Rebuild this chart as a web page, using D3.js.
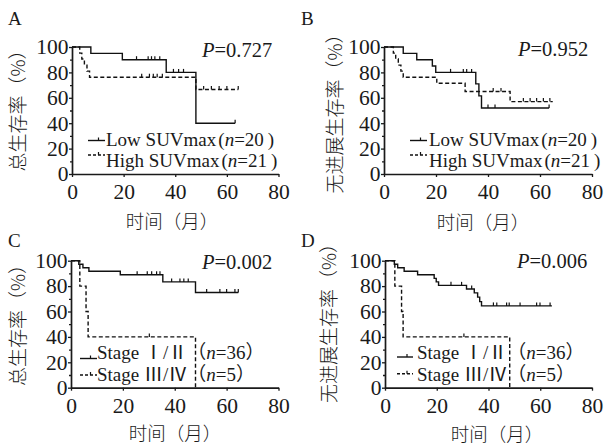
<!DOCTYPE html>
<html>
<head>
<meta charset="utf-8">
<script src="https://cdn.jsdelivr.net/npm/d3@7"></script>
<style>
body { margin: 0; background: #fff; }
text { fill: #1a1a1a; }
</style>
</head>
<body>
<svg id="chart" width="611" height="445"></svg>
<script>
// axis ticks
var xTicks = [0, 20, 40, 60, 80];
var yTicks = [0, 20, 40, 60, 80, 100];
var yMinor = [10, 30, 50, 70, 90];
var pValues = ["0.727", "0.952", "0.002", "0.006"];

// A: overall survival, SUVmax
var aLowT = [0, 7.3, 19.5, 36.5, 48, 63.2];
var aLowS = [100, 95, 90, 80, 40, 40];
var aLowC = [25, 29.5, 30.8, 32.1, 34, 39.3, 41.3, 43.2, 63.2];
var aHighT = [0, 3, 3.8, 4.8, 5.8, 6.8, 48, 64.4];
var aHighS = [100, 95.2, 90.5, 85.7, 81, 76.2, 66.5, 66.5];
var aHighC = [27, 30, 31.5, 33, 35, 51, 54, 57, 60, 64.4];

// B: progression-free survival, SUVmax
var bLowT = [0, 7.4, 12.6, 18.6, 19.9, 35.3, 36.5, 37.5, 63.5];
var bLowS = [100, 95, 90, 85, 80, 71, 61.5, 52, 52];
var bLowC = [25.6, 30.5, 31.8, 33.7, 40, 42.7, 63.5];
var bHighT = [0, 3.6, 4.5, 5.5, 6.5, 7.4, 20.3, 31.2, 48.5, 64.9];
var bHighS = [100, 95.2, 90.5, 85.7, 81, 76.2, 71.4, 65, 57, 57];
var bHighC = [42, 45, 53.6, 56.2, 58.7, 61.3, 63.8];

// C: overall survival, stage
var cEarlyT = [0, 3, 4.6, 6.9, 19, 35.4, 48, 64.5];
var cEarlyS = [100, 97.2, 94.4, 91.7, 88.9, 83.3, 75, 75];
var cEarlyC = [25.5, 29.4, 31.1, 33, 34.3, 38.8, 42, 43.5, 45.2, 52.3, 57.4, 60, 63.2, 64.5];
var cLateT = [0, 3.4, 5.8, 6.6, 48];
var cLateS = [100, 80, 60, 40, 0];
var cLateC = [30.2];

// D: progression-free survival, stage
var dEarlyT = [0, 3.6, 4.9, 7.4, 12.6, 19, 19.8, 20.7, 31.5, 34.5, 35.8, 36.6, 37.3, 64.5];
var dEarlyS = [100, 97.2, 94.4, 91.7, 88.9, 86.1, 83.3, 80.6, 77.7, 74.7, 71.3, 67.8, 64.4, 64.4];
var dEarlyC = [25.5, 29.6, 33.5, 41.9, 43.2, 47, 48, 52.2, 58.6, 59.9, 63.8];
var dLateT = [0, 3.8, 6.4, 7, 48.2];
var dLateS = [100, 80, 60, 40, 0];
var dLateC = [30.5];

var suvNames = ["Low SUVmax", "High SUVmax"];
var suvN = [20, 21];
var stageNames = ["Stage Ⅰ/Ⅱ", "Stage Ⅲ/Ⅳ"];
var stageN = [36, 5];

var serif = "'Liberation Serif', 'Noto Sans CJK SC', serif";
var cjk = "'Noto Sans CJK SC', sans-serif";

var panels = [
	{ letter: "A", lx: 8, ly: 25, x0: 72, x1: 278.5, y0: 174, y1: 47,
		ylab: "总生存率（%）", ylabX: 16.5, ylabY: 106, xlabX: 172, xlabY: 220,
		p: pValues[0], px: 202, py: 57,
		series: [[aLowT, aLowS, aLowC], [aHighT, aHighS, aHighC]],
		names: suvNames, ns: suvN, wide: false,
		leg: { sx0: 88, sx1: 105, sy: [140.5, 155], tx: 106, ty: [146, 166.5] } },
	{ letter: "B", lx: 301, ly: 25, x0: 384, x1: 592, y0: 174, y1: 47,
		ylab: "无进展生存率（%）", ylabX: 333.5, ylabY: 109, xlabX: 483, xlabY: 221,
		p: pValues[1], px: 518, py: 56,
		series: [[bLowT, bLowS, bLowC], [bHighT, bHighS, bHighC]],
		names: suvNames, ns: suvN, wide: false,
		leg: { sx0: 410, sx1: 427, sy: [140.5, 155], tx: 429, ty: [146, 166.5] } },
	{ letter: "C", lx: 8, ly: 247, x0: 71, x1: 278.5, y0: 387.7, y1: 260.7,
		ylab: "总生存率（%）", ylabX: 16.5, ylabY: 320.5, xlabX: 175, xlabY: 432,
		p: pValues[2], px: 202, py: 268.7,
		series: [[cEarlyT, cEarlyS, cEarlyC], [cLateT, cLateS, cLateC]],
		names: stageNames, ns: stageN, wide: true,
		leg: { sx0: 80, sx1: 97, sy: [358.5, 375], tx: 97, ty: [359, 381.3] } },
	{ letter: "D", lx: 301, ly: 247, x0: 385, x1: 592, y0: 387.7, y1: 260.7,
		ylab: "无进展生存率（%）", ylabX: 327.7, ylabY: 318.5, xlabX: 497, xlabY: 433,
		p: pValues[3], px: 517, py: 268,
		series: [[dEarlyT, dEarlyS, dEarlyC], [dLateT, dLateS, dLateC]],
		names: stageNames, ns: stageN, wide: true,
		leg: { sx0: 397, sx1: 413, sy: [357, 373.7], tx: 417, ty: [359, 381.3] } }
];

var svg = d3.select("#chart");
var dashes = [null, "4,2.5"];

function valueAt(times, surv, t) {
	var v = surv[0];
	for (var i = 0; i < times.length; i++) {
		if (times[i] <= t) v = surv[i];
	}
	return v;
}

panels.forEach(function (p) {
	var x = d3.scaleLinear().domain([0, 80]).range([p.x0, p.x1]);
	var y = d3.scaleLinear().domain([0, 100]).range([p.y0, p.y1]);
	var g = svg.append("g");

	// axes
	g.append("g")
		.attr("transform", "translate(" + p.x0 + ",0)")
		.call(d3.axisLeft(y).tickValues(yTicks).tickSize(3).tickSizeOuter(0).tickPadding(0.5));
	g.append("g")
		.attr("transform", "translate(" + p.x0 + ",0)")
		.call(d3.axisLeft(y).tickValues(yMinor).tickSize(2).tickFormat(""))
		.select(".domain").remove();
	g.append("g")
		.attr("transform", "translate(0," + p.y0 + ")")
		.call(d3.axisBottom(x).tickValues(xTicks).tickSize(3).tickSizeOuter(0).tickPadding(7));
	g.selectAll(".tick line").attr("stroke", "#1a1a1a").attr("stroke-width", 1.3);
	g.selectAll(".domain").attr("stroke", "#1a1a1a").attr("stroke-width", 1.7);
	g.selectAll(".tick text")
		.attr("font-family", serif).attr("font-size", 21.5).attr("fill", "#1a1a1a");

	// curves
	var line = d3.line()
		.x(function (d) { return x(d[0]); })
		.y(function (d) { return y(d[1]); })
		.curve(d3.curveStepAfter);

	p.series.forEach(function (s, k) {
		var pts = s[0].map(function (t, i) { return [t, s[1][i]]; });
		g.append("path")
			.attr("d", line(pts))
			.attr("fill", "none")
			.attr("stroke", "#111")
			.attr("stroke-width", 1.4)
			.attr("stroke-dasharray", dashes[k]);
		g.selectAll(null)
			.data(s[2])
			.enter().append("line")
			.attr("x1", function (t) { return x(t); })
			.attr("x2", function (t) { return x(t); })
			.attr("y1", function (t) { return y(valueAt(s[0], s[1], t)); })
			.attr("y2", function (t) { return y(valueAt(s[0], s[1], t)) - 3.5; })
			.attr("stroke", "#111")
			.attr("stroke-width", 1.2);

		// legend
		var L = p.leg;
		g.append("line")
			.attr("x1", L.sx0).attr("x2", L.sx1)
			.attr("y1", L.sy[k]).attr("y2", L.sy[k])
			.attr("stroke", "#111").attr("stroke-width", 1.4)
			.attr("stroke-dasharray", k ? "3,2" : null);
		g.append("line")
			.attr("x1", (L.sx0 + L.sx1) / 2 + 2).attr("x2", (L.sx0 + L.sx1) / 2 + 2)
			.attr("y1", L.sy[k]).attr("y2", L.sy[k] - 3)
			.attr("stroke", "#111").attr("stroke-width", 1.2);
		var t = g.append("text")
			.attr("x", L.tx).attr("y", L.ty[k])
			.attr("font-family", serif).attr("font-size", 19);
		if (p.wide) {
			t.append("tspan").text(p.names[k] + "（");
			t.append("tspan").attr("font-style", "italic").text("n");
			t.append("tspan").text("=" + p.ns[k] + "）");
		} else {
			t.append("tspan").text(p.names[k]);
			t.append("tspan").attr("dx", 2).text("(");
			t.append("tspan").attr("font-style", "italic").text("n");
			t.append("tspan").text("=" + p.ns[k]);
			t.append("tspan").attr("dx", 4).text(")");
		}
	});

	// P value
	var pt = g.append("text")
		.attr("x", p.px).attr("y", p.py)
		.attr("font-family", serif).attr("font-size", 20.5);
	pt.append("tspan").attr("font-style", "italic").text("P");
	pt.append("tspan").text("=" + p.p);

	// panel letter
	g.append("text")
		.attr("x", p.lx).attr("y", p.ly)
		.attr("font-family", serif).attr("font-size", 19)
		.text(p.letter);

	// axis titles
	g.append("text")
		.attr("transform", "translate(" + p.ylabX + "," + p.ylabY + ") rotate(-90)")
		.attr("text-anchor", "middle")
		.attr("dominant-baseline", "central")
		.attr("font-family", cjk).attr("font-size", 19).attr("font-weight", 300)
		.text(p.ylab);
	g.append("text")
		.attr("x", p.xlabX).attr("y", p.xlabY)
		.attr("text-anchor", "middle")
		.attr("dominant-baseline", "central")
		.attr("font-family", cjk).attr("font-size", 18.5).attr("font-weight", 300)
		.text("时间（月）");
});
</script>
</body>
</html>
